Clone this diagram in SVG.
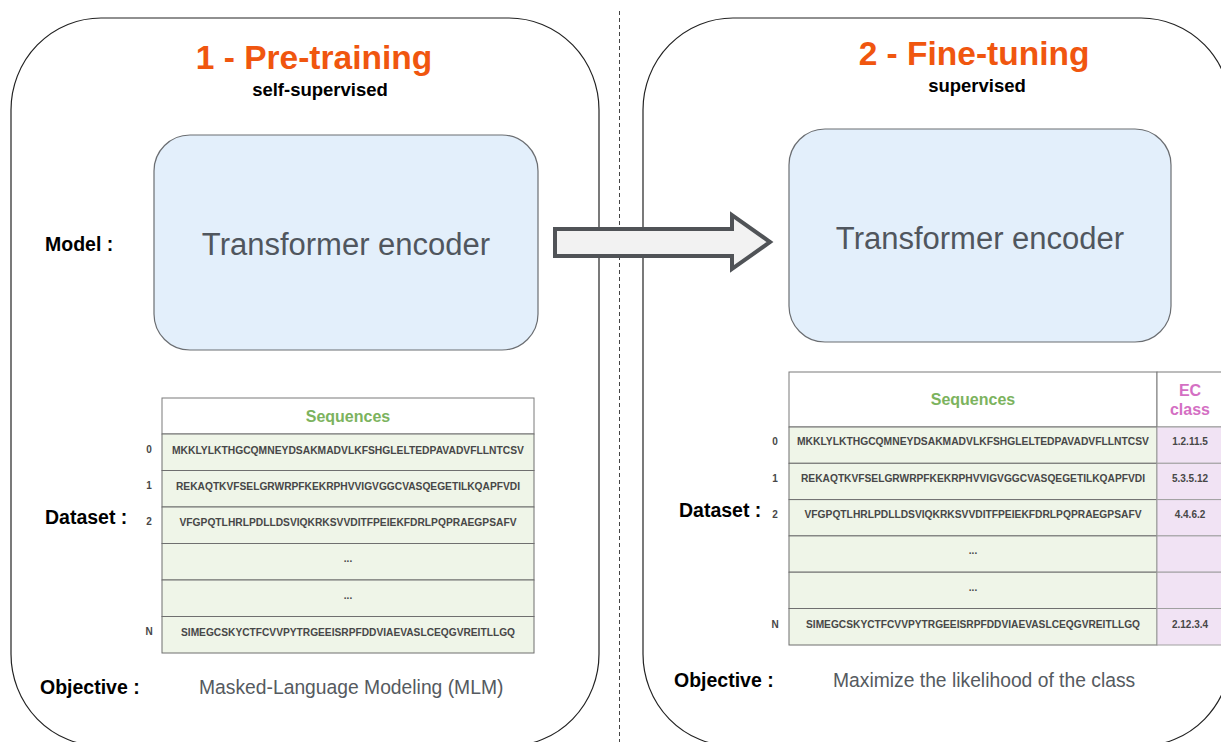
<svg xmlns="http://www.w3.org/2000/svg" width="1221" height="742" viewBox="0 0 1221 742">
<style>
text{font-family:"Liberation Sans",Arial,sans-serif}
.panel{fill:#fff;stroke:#222;stroke-width:1.2}
.enc{fill:#e3effb;stroke:#6b6e72;stroke-width:1.2}
.enct{font-size:31px;fill:#50565e;text-anchor:middle}
.title{font-size:33.5px;font-weight:bold;fill:#f0560f;text-anchor:middle}
.sub{font-size:18.5px;font-weight:bold;fill:#000;text-anchor:middle}
.lbl{font-size:19.5px;font-weight:bold;fill:#000}
.obj{font-size:19.3px;fill:#555a60}
.hdr{fill:#fff;stroke:#7a7a7a;stroke-width:1}
.row{fill:#eff5e8;stroke:#6f6f6f;stroke-width:1}
.ec{fill:#f1e3f4;stroke:#a0a0a0;stroke-width:1}
.seqh{font-size:16px;font-weight:bold;fill:#7cb35e;text-anchor:middle}
.ech{font-size:16px;font-weight:bold;fill:#d46fc3;text-anchor:middle}
.seq{font-size:10px;font-weight:bold;fill:#474747;text-anchor:middle}
.idx{font-size:10px;font-weight:bold;fill:#474747;text-anchor:middle}
.ecv{font-size:10px;font-weight:bold;fill:#474747;text-anchor:middle}
</style>
<rect width="1221" height="742" fill="#fff"/>

<g id="panel-pretraining">
<rect class="panel" x="11" y="18" width="588" height="728" rx="90" ry="92"/>
<text class="title" x="314" y="69">1 - Pre-training</text>
<text class="sub" x="320" y="96">self-supervised</text>
<text class="lbl" x="45" y="251">Model :</text>
<text class="lbl" x="45" y="524">Dataset :</text>
<text class="lbl" x="40" y="694">Objective :</text>
<text class="obj" x="199" y="694">Masked-Language Modeling (MLM)</text>
</g>

<g id="panel-finetuning">
<rect class="panel" x="643" y="18" width="588" height="728" rx="90" ry="92"/>
<text class="title" x="974" y="65">2 - Fine-tuning</text>
<text class="sub" x="977" y="92">supervised</text>
<text class="lbl" x="679" y="517">Dataset :</text>
<text class="lbl" x="674" y="687">Objective :</text>
<text class="obj" x="833" y="687">Maximize the likelihood of the class</text>
</g>

<g id="divider">
<line x1="619.5" y1="11" x2="619.5" y2="742" stroke="#444" stroke-width="1" stroke-dasharray="4 3"/>
</g>

<g id="encoder-pretraining">
<rect class="enc" x="154" y="135" width="384" height="215" rx="36"/>
<text class="enct" x="346" y="255">Transformer encoder</text>
</g>

<g id="encoder-finetuning">
<rect class="enc" x="789" y="129" width="382" height="213" rx="36"/>
<text class="enct" x="980" y="249">Transformer encoder</text>
</g>

<g id="connectors">
<path d="M555,229 L732,229 L732,215 L770,242 L732,269 L732,256 L555,256 Z" fill="#f2f2f2" stroke="#505357" stroke-width="4" stroke-linejoin="miter"/>
</g>

<g id="table-pretraining">
<rect class="hdr" x="162" y="398" width="372" height="36"/>
<rect class="row" x="162" y="434" width="372" height="36.5"/>
<rect class="row" x="162" y="470.5" width="372" height="36.5"/>
<rect class="row" x="162" y="507" width="372" height="36.5"/>
<rect class="row" x="162" y="543.5" width="372" height="36.5"/>
<rect class="row" x="162" y="580" width="372" height="36.5"/>
<rect class="row" x="162" y="616.5" width="372" height="36.5"/>
<text class="seqh" x="348" y="422">Sequences</text>
<text class="seq" x="348" y="454" textLength="352" lengthAdjust="spacingAndGlyphs">MKKLYLKTHGCQMNEYDSAKMADVLKFSHGLELTEDPAVADVFLLNTCSV</text>
<text class="seq" x="348" y="490" textLength="344" lengthAdjust="spacingAndGlyphs">REKAQTKVFSELGRWRPFKEKRPHVVIGVGGCVASQEGETILKQAPFVDI</text>
<text class="seq" x="348" y="526" textLength="337" lengthAdjust="spacingAndGlyphs">VFGPQTLHRLPDLLDSVIQKRKSVVDITFPEIEKFDRLPQPRAEGPSAFV</text>
<text class="seq" x="348" y="562">...</text>
<text class="seq" x="348" y="599">...</text>
<text class="seq" x="348" y="636" textLength="334" lengthAdjust="spacingAndGlyphs">SIMEGCSKYCTFCVVPYTRGEEISRPFDDVIAEVASLCEQGVREITLLGQ</text>
<text class="idx" x="149" y="453">0</text>
<text class="idx" x="149" y="489">1</text>
<text class="idx" x="149" y="525">2</text>
<text class="idx" x="149" y="635">N</text>
</g>

<g id="table-finetuning">
<rect class="hdr" x="789" y="372" width="368" height="55"/>
<rect class="hdr" x="1157" y="372" width="70" height="55"/>
<rect class="row" x="789" y="427" width="368" height="36.3"/>
<rect class="row" x="789" y="463.3" width="368" height="36.3"/>
<rect class="row" x="789" y="499.6" width="368" height="36.3"/>
<rect class="row" x="789" y="535.9" width="368" height="36.3"/>
<rect class="row" x="789" y="572.2" width="368" height="36.3"/>
<rect class="row" x="789" y="608.5" width="368" height="36.5"/>
<rect class="ec" x="1157" y="427" width="70" height="36.3"/>
<rect class="ec" x="1157" y="463.3" width="70" height="36.3"/>
<rect class="ec" x="1157" y="499.6" width="70" height="36.3"/>
<rect class="ec" x="1157" y="535.9" width="70" height="36.3"/>
<rect class="ec" x="1157" y="572.2" width="70" height="36.3"/>
<rect class="ec" x="1157" y="608.5" width="70" height="36.5"/>
<text class="seqh" x="973" y="405">Sequences</text>
<text class="ech" x="1190" y="396">EC</text>
<text class="ech" x="1190" y="415">class</text>
<text class="seq" x="973" y="445" textLength="352" lengthAdjust="spacingAndGlyphs">MKKLYLKTHGCQMNEYDSAKMADVLKFSHGLELTEDPAVADVFLLNTCSV</text>
<text class="seq" x="973" y="482" textLength="344" lengthAdjust="spacingAndGlyphs">REKAQTKVFSELGRWRPFKEKRPHVVIGVGGCVASQEGETILKQAPFVDI</text>
<text class="seq" x="973" y="518" textLength="337" lengthAdjust="spacingAndGlyphs">VFGPQTLHRLPDLLDSVIQKRKSVVDITFPEIEKFDRLPQPRAEGPSAFV</text>
<text class="seq" x="973" y="554">...</text>
<text class="seq" x="973" y="591">...</text>
<text class="seq" x="973" y="628" textLength="334" lengthAdjust="spacingAndGlyphs">SIMEGCSKYCTFCVVPYTRGEEISRPFDDVIAEVASLCEQGVREITLLGQ</text>
<text class="ecv" x="1190" y="445">1.2.11.5</text>
<text class="ecv" x="1190" y="482">5.3.5.12</text>
<text class="ecv" x="1190" y="518">4.4.6.2</text>
<text class="ecv" x="1190" y="628">2.12.3.4</text>
<text class="idx" x="775" y="445">0</text>
<text class="idx" x="775" y="482">1</text>
<text class="idx" x="775" y="518">2</text>
<text class="idx" x="775" y="628">N</text>
</g>
</svg>
